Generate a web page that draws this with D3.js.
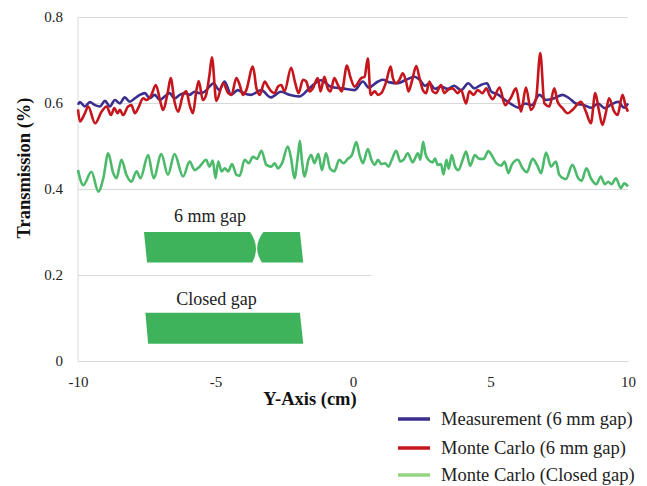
<!DOCTYPE html>
<html>
<head>
<meta charset="utf-8">
<script src="https://cdn.jsdelivr.net/npm/d3@7"></script>
<style>
  body { margin: 0; background: #fff; }
  svg { display: block; }
  svg text { font-family: "Liberation Serif", "Times New Roman", serif; }
</style>
</head>
<body>
<div id="chart"></div>
<script>
const width = 647;
const height = 486;

// Measurement (6 mm gap)
const measX = [-10, -9.93, -9.75, -9.57, -9.38, -9.2, -9.02, -8.84, -8.66, -8.48, -8.3, -8.12, -7.93, -7.75, -7.57, -7.39, -7.21, -7.03, -6.85, -6.67, -6.49, -6.3, -6.12, -5.94, -5.76, -5.58, -5.4, -5.22, -5.08, -4.86, -4.67, -4.43, -4.19, -3.95, -3.71, -3.34, -2.98, -2.62, -2.32, -1.96, -1.59, -1.17, -0.81, -0.39, 0.06, 0.36, 0.57, 0.91, 1.09, 1.33, 1.63, 1.93, 2.24, 2.42, 2.62, 2.78, 2.98, 3.2, 3.44, 3.68, 3.93, 4.19, 4.41, 4.65, 4.87, 5.02, 5.29, 5.53, 5.77, 6.02, 6.26, 6.5, 6.78, 7.02, 7.32, 7.62, 7.86, 8.1, 8.41, 8.67, 8.91, 9.16, 9.4, 9.64, 9.86, 10];
const measY = [0.596, 0.602, 0.592, 0.602, 0.595, 0.592, 0.605, 0.592, 0.607, 0.599, 0.613, 0.603, 0.611, 0.619, 0.623, 0.611, 0.619, 0.607, 0.615, 0.623, 0.611, 0.619, 0.623, 0.619, 0.626, 0.623, 0.626, 0.638, 0.646, 0.63, 0.65, 0.619, 0.63, 0.622, 0.619, 0.63, 0.613, 0.626, 0.619, 0.615, 0.634, 0.653, 0.638, 0.634, 0.63, 0.65, 0.636, 0.65, 0.654, 0.648, 0.646, 0.654, 0.661, 0.654, 0.64, 0.646, 0.633, 0.638, 0.633, 0.64, 0.63, 0.646, 0.634, 0.642, 0.646, 0.627, 0.619, 0.607, 0.597, 0.589, 0.599, 0.595, 0.619, 0.607, 0.611, 0.619, 0.611, 0.599, 0.595, 0.589, 0.599, 0.588, 0.597, 0.603, 0.589, 0.599];

// Monte Carlo (6 mm gap)
const mc6X = [-10, -9.93, -9.75, -9.63, -9.38, -9.14, -8.96, -8.8, -8.68, -8.56, -8.48, -8.36, -8.18, -8.06, -7.93, -7.81, -7.63, -7.51, -7.33, -7.17, -6.99, -6.91, -6.73, -6.63, -6.49, -6.36, -6.18, -6.06, -5.94, -5.82, -5.7, -5.61, -5.46, -5.34, -5.22, -5.13, -4.97, -4.72, -4.54, -4.42, -4.24, -4.12, -4, -3.88, -3.64, -3.51, -3.39, -3.21, -3.09, -2.97, -2.85, -2.73, -2.61, -2.49, -2.25, -2.1, -1.98, -1.82, -1.7, -1.58, -1.46, -1.28, -1.18, -1.04, -0.92, -0.82, -0.68, -0.55, -0.41, -0.22, -0.1, 0.06, 0.3, 0.42, 0.54, 0.64, 0.79, 0.91, 1.03, 1.21, 1.37, 1.45, 1.57, 1.69, 1.81, 1.93, 2.02, 2.14, 2.3, 2.42, 2.54, 2.66, 2.78, 2.9, 3.02, 3.2, 3.32, 3.44, 3.62, 3.81, 3.93, 4.11, 4.23, 4.39, 4.53, 4.71, 4.85, 4.96, 5.08, 5.33, 5.53, 5.73, 5.93, 6.11, 6.29, 6.47, 6.66, 6.81, 6.96, 7.14, 7.32, 7.44, 7.62, 7.8, 7.98, 8.29, 8.47, 8.65, 8.81, 8.95, 9.07, 9.19, 9.31, 9.5, 9.62, 9.8, 9.92, 10];
const mc6Y = [0.585, 0.557, 0.576, 0.592, 0.553, 0.58, 0.592, 0.572, 0.588, 0.576, 0.584, 0.572, 0.592, 0.595, 0.576, 0.588, 0.611, 0.607, 0.619, 0.642, 0.599, 0.584, 0.627, 0.658, 0.603, 0.58, 0.619, 0.627, 0.595, 0.576, 0.627, 0.651, 0.607, 0.619, 0.665, 0.706, 0.605, 0.646, 0.623, 0.619, 0.658, 0.642, 0.619, 0.63, 0.685, 0.634, 0.619, 0.65, 0.638, 0.627, 0.623, 0.638, 0.642, 0.627, 0.682, 0.646, 0.623, 0.654, 0.65, 0.627, 0.634, 0.658, 0.627, 0.661, 0.634, 0.627, 0.658, 0.642, 0.627, 0.687, 0.661, 0.638, 0.658, 0.661, 0.704, 0.619, 0.627, 0.619, 0.623, 0.65, 0.685, 0.658, 0.646, 0.654, 0.669, 0.65, 0.627, 0.65, 0.686, 0.658, 0.63, 0.623, 0.65, 0.627, 0.623, 0.642, 0.623, 0.63, 0.634, 0.623, 0.63, 0.599, 0.627, 0.619, 0.63, 0.623, 0.634, 0.619, 0.609, 0.636, 0.595, 0.611, 0.634, 0.58, 0.636, 0.584, 0.611, 0.716, 0.599, 0.592, 0.634, 0.603, 0.588, 0.576, 0.584, 0.603, 0.58, 0.553, 0.623, 0.58, 0.549, 0.576, 0.611, 0.58, 0.572, 0.619, 0.592, 0.58];

// Monte Carlo (Closed gap)
const mcClosedX = [-10, -9.81, -9.51, -9.26, -9.08, -8.9, -8.72, -8.6, -8.42, -8.24, -8.06, -7.87, -7.73, -7.45, -7.25, -6.97, -6.73, -6.49, -6.18, -5.94, -5.76, -5.58, -5.34, -5.22, -5.1, -5, -4.9, -4.78, -4.66, -4.54, -4.4, -4.24, -4.12, -3.94, -3.79, -3.64, -3.49, -3.33, -3.15, -2.97, -2.85, -2.73, -2.58, -2.37, -2.25, -2.13, -2, -1.93, -1.86, -1.76, -1.62, -1.52, -1.4, -1.26, -1.13, -0.98, -0.83, -0.68, -0.5, -0.35, -0.19, -0.04, 0.12, 0.24, 0.36, 0.54, 0.67, 0.79, 0.91, 1.03, 1.17, 1.29, 1.41, 1.57, 1.72, 1.84, 1.99, 2.17, 2.36, 2.45, 2.55, 2.63, 2.74, 2.9, 2.98, 3.08, 3.2, 3.29, 3.4, 3.48, 3.59, 3.71, 3.83, 3.99, 4.11, 4.26, 4.43, 4.59, 4.75, 4.92, 5.05, 5.21, 5.39, 5.51, 5.65, 5.77, 5.99, 6.17, 6.32, 6.53, 6.72, 6.84, 7.02, 7.2, 7.38, 7.5, 7.74, 7.98, 8.19, 8.31, 8.49, 8.65, 8.85, 9.01, 9.16, 9.28, 9.4, 9.56, 9.74, 9.86, 10];
const mcClosedY = [0.444, 0.409, 0.44, 0.394, 0.425, 0.483, 0.437, 0.425, 0.468, 0.433, 0.417, 0.441, 0.425, 0.479, 0.425, 0.481, 0.433, 0.481, 0.429, 0.464, 0.444, 0.452, 0.468, 0.452, 0.466, 0.425, 0.464, 0.441, 0.448, 0.441, 0.458, 0.433, 0.431, 0.468, 0.46, 0.475, 0.47, 0.489, 0.456, 0.452, 0.46, 0.448, 0.46, 0.499, 0.471, 0.425, 0.479, 0.512, 0.468, 0.429, 0.468, 0.479, 0.46, 0.481, 0.444, 0.483, 0.447, 0.441, 0.468, 0.46, 0.47, 0.479, 0.509, 0.479, 0.46, 0.493, 0.468, 0.456, 0.468, 0.458, 0.46, 0.452, 0.468, 0.489, 0.464, 0.468, 0.483, 0.462, 0.483, 0.468, 0.51, 0.483, 0.468, 0.462, 0.471, 0.456, 0.458, 0.434, 0.468, 0.447, 0.479, 0.452, 0.444, 0.468, 0.487, 0.454, 0.479, 0.47, 0.47, 0.488, 0.478, 0.46, 0.454, 0.464, 0.437, 0.456, 0.468, 0.448, 0.439, 0.47, 0.452, 0.437, 0.485, 0.452, 0.464, 0.433, 0.423, 0.456, 0.425, 0.419, 0.448, 0.425, 0.411, 0.429, 0.411, 0.417, 0.411, 0.425, 0.402, 0.413, 0.406];

const seriesNames = ["Measurement (6 mm gap)", "Monte Carlo (6 mm gap)", "Monte Carlo (Closed gap)"];
const xTicks = [-10, -5, 0, 5, 10];
const yTicks = [0, 0.2, 0.4, 0.6, 0.8];

// inset sketch of the collimator leaves, in chart units
const insetLabels = [{ text: "6 mm gap", x: -5.2, y: 0.324 }, { text: "Closed gap", x: -4.96, y: 0.13 }];
// [left top, left bottom, right top, right bottom, right bulge] per leaf; bulge 0 = straight edge
const leafShapes = [
    { x0t: -7.6, x0b: -7.49, x1t: -3.74, x1b: -3.66, yt: 0.3, yb: 0.229, leftBulge: 0, rightBulge: 0.17 },
    { x0t: -3.26, x0b: -3.31, x1t: -1.93, x1b: -1.81, yt: 0.3, yb: 0.229, leftBulge: -0.2, rightBulge: 0 },
    { x0t: -7.55, x0b: -7.45, x1t: -1.93, x1b: -1.81, yt: 0.112, yb: 0.04, leftBulge: 0, rightBulge: 0 }
];

const series = [
    { name: seriesNames[0], xs: measX, ys: measY, color: "#3a2f8e", legendColor: "#3a2f8e" },
    { name: seriesNames[1], xs: mc6X, ys: mc6Y, color: "#c4161c", legendColor: "#c4161c" },
    { name: seriesNames[2], xs: mcClosedX, ys: mcClosedY, color: "#4dba6b", legendColor: "#95d57f" }
];

const margin = { top: 17, right: 19, bottom: 125, left: 78 };
const innerW = width - margin.left - margin.right;
const innerH = height - margin.top - margin.bottom;

const svg = d3.select("#chart").append("svg")
    .attr("width", width)
    .attr("height", height);
svg.append("rect").attr("width", width).attr("height", height).attr("fill", "#fff");

const x = d3.scaleLinear().domain([-10, 10]).range([margin.left, margin.left + innerW]);
const y = d3.scaleLinear().domain([0, 0.8]).range([margin.top + innerH, margin.top]);

// grid + y labels
const yAxis = svg.append("g")
    .attr("transform", `translate(${margin.left},0)`)
    .call(d3.axisLeft(y).tickValues(yTicks).tickSize(-innerW).tickPadding(15)
        .tickFormat(d => d === 0 ? "0" : d3.format(".1f")(d)));
yAxis.attr("font-family", null);
yAxis.select(".domain").remove();
yAxis.selectAll(".tick line").attr("stroke", "#d9d9d9");
yAxis.selectAll(".tick text").style("font-size", "15px").attr("fill", "#222");

// left axis line
svg.append("line")
    .attr("x1", margin.left).attr("x2", margin.left)
    .attr("y1", y(0.8)).attr("y2", y(0))
    .attr("stroke", "#d9d9d9");

const xAxis = svg.append("g")
    .attr("transform", `translate(0,${y(0)})`)
    .call(d3.axisBottom(x).tickValues(xTicks).tickSize(0).tickPadding(15)
        .tickFormat(d => String(d)));
xAxis.attr("font-family", null);
xAxis.select(".domain").attr("stroke", "#d9d9d9");
xAxis.selectAll(".tick text").style("font-size", "15px").attr("fill", "#222");

// white box of the legend hides part of the 0.2 grid line
svg.append("rect")
    .attr("x", x(0.65)).attr("y", y(0.38))
    .attr("width", width - x(0.65)).attr("height", y(0.015) - y(0.38))
    .attr("fill", "#fff");

const line = d3.line()
    .x(d => x(d[0]))
    .y(d => y(d[1]))
    .curve(d3.curveMonotoneX);

svg.append("g").selectAll("path")
    .data(series)
    .enter().append("path")
    .attr("d", s => line(s.xs.map((v, i) => [v, s.ys[i]])))
    .attr("fill", "none")
    .attr("stroke", s => s.color)
    .attr("stroke-width", 2.6)
    .attr("stroke-linejoin", "round");

// inset leaves
function leafPath(s) {
    const p = d3.path();
    const ym = y((s.yt + s.yb) / 2);
    p.moveTo(x(s.x0t), y(s.yt));
    p.lineTo(x(s.x1t), y(s.yt));
    p.quadraticCurveTo(x((s.x1t + s.x1b) / 2 + 2 * s.rightBulge), ym, x(s.x1b), y(s.yb));
    p.lineTo(x(s.x0b), y(s.yb));
    p.quadraticCurveTo(x((s.x0t + s.x0b) / 2 + 2 * s.leftBulge), ym, x(s.x0t), y(s.yt));
    p.closePath();
    return p.toString();
}
svg.append("g").selectAll("path")
    .data(leafShapes)
    .enter().append("path")
    .attr("d", leafPath)
    .attr("fill", "#3fb35c");

svg.append("g").selectAll("text")
    .data(insetLabels)
    .enter().append("text")
    .attr("x", d => x(d.x))
    .attr("y", d => y(d.y))
    .attr("text-anchor", "middle")
    .style("font-size", "18px")
    .attr("fill", "#222")
    .text(d => d.text);

// axis titles
svg.append("text")
    .attr("transform", `translate(30,168) rotate(-90)`)
    .attr("text-anchor", "middle")
    .style("font-size", "18.5px")
    .attr("font-weight", "bold")
    .attr("fill", "#111")
    .text("Transmission (%)");

svg.append("text")
    .attr("x", 310)
    .attr("y", 405)
    .attr("text-anchor", "middle")
    .style("font-size", "18.5px")
    .attr("font-weight", "bold")
    .attr("fill", "#111")
    .text("Y-Axis (cm)");

// legend
const legend = svg.append("g").attr("transform", "translate(398,419)");
const rows = legend.selectAll("g")
    .data(series)
    .enter().append("g")
    .attr("transform", (d, i) => `translate(0,${[0, 29, 56][i]})`);
rows.append("line")
    .attr("x1", 0).attr("x2", 32)
    .attr("stroke", d => d.legendColor)
    .attr("stroke-width", 3.5);
rows.append("text")
    .attr("x", 43)
    .attr("dy", "0.35em")
    .style("font-size", "18.5px")
    .attr("fill", "#222")
    .text(d => d.name);
</script>
</body>
</html>
